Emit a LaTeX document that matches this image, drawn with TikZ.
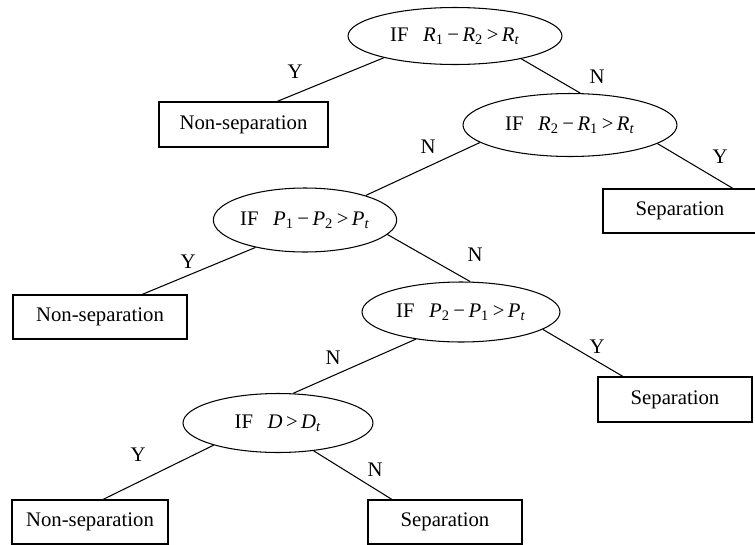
\documentclass[tikz,border=0pt]{standalone}
\usepackage{fontspec}
\setmainfont{Liberation Serif}
\usetikzlibrary{shapes.geometric,calc}
\newcommand{\varsub}[2]{\textit{#1}\textsubscript{#2}}

\begin{document}
\begin{tikzpicture}[x=0.02cm,y=-0.02cm,
  font=\fontsize{11.8}{14}\selectfont,
  cond/.style={draw,ellipse,inner sep=0pt,line width=0.6pt},
  outcome/.style={draw,rectangle,inner sep=0pt,line width=0.6pt},
  branch/.style={line width=0.6pt}]
\useasboundingbox (0,0) rectangle (755,545);

% tests
\node[cond,minimum width=4.28cm,minimum height=1.14cm] (e1) at (455,36)
  {IF\hspace{0.7em}\varsub{R}{1}\,−\,\varsub{R}{2}\,>\,\varsub{R}{\textit{t}}};
\node[cond,minimum width=4.28cm,minimum height=1.26cm] (e2) at (570,125)
  {IF\hspace{0.7em}\varsub{R}{2}\,−\,\varsub{R}{1}\,>\,\varsub{R}{\textit{t}}};
\node[cond,minimum width=3.52cm,minimum height=1.28cm] (e3) at (305,220)
  {IF\hspace{0.7em}\varsub{P}{1}\,−\,\varsub{P}{2}\,>\,\varsub{P}{\textit{t}}};
\node[cond,minimum width=3.96cm,minimum height=1.20cm] (e4) at (461,312)
  {IF\hspace{0.7em}\varsub{P}{2}\,−\,\varsub{P}{1}\,>\,\varsub{P}{\textit{t}}};
\node[cond,minimum width=3.80cm,minimum height=1.18cm] (e5) at (278,423)
  {IF\hspace{0.7em}\textit{D}\,>\,\varsub{D}{\textit{t}}};

% results
\node[outcome,minimum width=3.38cm,minimum height=0.90cm] (ns1) at (243.5,124.5) {Non-separation};
\node[outcome,minimum width=3.08cm,minimum height=0.88cm] (s1) at (680,211) {Separation};
\node[outcome,minimum width=3.48cm,minimum height=0.88cm] (ns2) at (100,317) {Non-separation};
\node[outcome,minimum width=3.08cm,minimum height=0.90cm] (s2) at (675,399.5) {Separation};
\node[outcome,minimum width=3.12cm,minimum height=0.88cm] (ns3) at (90,522) {Non-separation};
\node[outcome,minimum width=3.08cm,minimum height=0.88cm] (s3) at (445,522) {Separation};

% branches
\draw[branch] (e1.197) -- ($(ns1.north)+(33.5,0)$);
\draw[branch] (e1.341) -- (e2.72);
\draw[branch] (e2.348) -- ($(s1.north)+(53,0)$);
\draw[branch] (e2.191) -- (e3.22);
\draw[branch] (e3.209) -- ($(ns2.north)+(42,0)$);
\draw[branch] (e3.350) -- (e4.73);
\draw[branch] (e4.348) -- ($(s2.north)+(-52,0)$);
\draw[branch] (e4.211) -- (e5.63);
\draw[branch] (e5.199) -- ($(ns3.north)+(13,0)$);
\draw[branch] (e5.322) -- ($(s3.north)+(-53,0)$);

% labels
\node (y1) at (295,72) {Y};
\node (n1) at (597,77) {N};
\node (y2) at (720,157) {Y};
\node (n2) at (428,147) {N};
\node (y3) at (188,262) {Y};
\node (n3) at (475,255) {N};
\node (y4) at (597,347) {Y};
\node (n4) at (333,358) {N};
\node (y5) at (138,455) {Y};
\node (n5) at (375,470) {N};
\end{tikzpicture}
\end{document}
